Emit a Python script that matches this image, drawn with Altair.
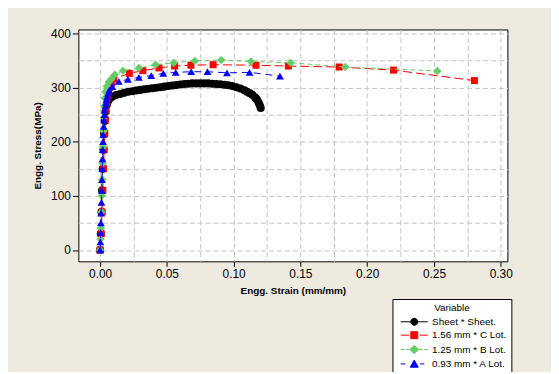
import altair as alt
import pandas as pd

# ---------------- data ----------------
sheet_strain = [0.0, 0.0005, 0.001, 0.0015, 0.002, 0.0025, 0.003, 0.0035, 0.004, 0.005, 0.006, 0.007,
                0.008, 0.009, 0.012, 0.015, 0.018, 0.021, 0.024, 0.027, 0.030, 0.033, 0.036, 0.039, 0.042,
                0.045, 0.048, 0.051, 0.054, 0.057, 0.060, 0.063, 0.066, 0.069, 0.072, 0.075, 0.078,
                0.081, 0.084, 0.087, 0.090, 0.093, 0.096, 0.099, 0.102, 0.105, 0.108, 0.110, 0.112,
                0.114, 0.116, 0.117, 0.118, 0.119, 0.1197, 0.1203]
sheet_stress = [0, 30, 70, 110, 150, 185, 215, 238, 255, 268, 275, 279,
                282, 283, 286, 288, 290, 292, 293, 294.5, 295.5, 296.5, 297.5, 298.5, 299.5,
                300.5, 301.5, 302.5, 303.5, 304.5, 305.5, 306.5, 307, 307.5, 307.5, 307.5, 307.5,
                307.5, 307, 306.5, 306, 305, 304, 302.5, 300.5, 298, 295, 292, 289.5,
                286.5, 282, 279, 275, 270.5, 266, 262]

c_strain = [0.0, 0.0008, 0.0015, 0.002, 0.0025, 0.003, 0.0035, 0.004, 0.0045, 0.005, 0.0055, 0.006,
            0.007, 0.0085, 0.0102, 0.0219, 0.032, 0.0441, 0.0558, 0.068, 0.0846, 0.1167, 0.141,
            0.179, 0.2197, 0.2803]
c_stress = [0, 30, 70, 110, 150, 185, 215, 240, 258, 272, 283, 292,
            300, 308, 315.7, 326, 331, 336, 339.5, 341, 342, 341, 339.5,
            337.7, 332, 312.6]

b_strain = [0.0, 0.0003, 0.0006, 0.001, 0.0013, 0.0016, 0.0019, 0.0022, 0.0025, 0.0028, 0.0031,
            0.0035, 0.004, 0.005, 0.0065, 0.0084, 0.011, 0.0171, 0.029, 0.0415, 0.0552, 0.0709,
            0.0907, 0.113, 0.1426, 0.1836, 0.2525]
b_stress = [0, 20, 40, 70, 100, 130, 160, 190, 220, 245, 265,
            280, 292, 302, 310, 315.7, 323.6, 331, 336, 342, 345.6, 349,
            350.5, 348, 345.6, 337.7, 330.4]

a_strain = [0.0, 0.0002, 0.0004, 0.0006, 0.0008, 0.001, 0.0012, 0.0014, 0.0016, 0.0018, 0.002,
            0.0022, 0.0024, 0.0027, 0.003, 0.0033, 0.0036, 0.004, 0.0044, 0.0048, 0.0053, 0.006,
            0.0068, 0.0092, 0.014, 0.0208, 0.029, 0.0383, 0.0473, 0.0566, 0.0682, 0.0804, 0.095,
            0.1119, 0.1347]
a_stress = [0, 15, 32, 50, 68, 88, 110, 130, 150, 168, 185,
            200, 213, 228, 240, 250, 258, 266, 272, 277, 283, 289,
            295, 301.6, 311, 315, 318.7, 321.8, 326, 327.8, 329, 329, 327,
            327.8, 321]

series_labels = ["Sheet * Sheet.", "1.56 mm * C Lot.", "1.25 mm * B Lot.", "0.93 mm * A Lot."]
series_colors = ["#000000", "#FF0000", "#66CC66", "#0000FF"]
x_ticks = [0.0, 0.025, 0.05, 0.075, 0.1, 0.125, 0.15, 0.175, 0.2, 0.225, 0.25, 0.275, 0.3]
y_ticks = [0, 50, 100, 150, 200, 250, 300, 350, 400]

# legend symbols: line + marker (custom paths)
legend_paths = [
    "M-3.9,0H3.9M0,-1A1,1 0 1,1 0,1A1,1 0 1,1 0,-1Z",
    "M-3.9,0H-1.5M1.5,0H3.9M-1,-1H1V1H-1Z",
    "M-3.9,0H-2.9M-2.4,0H-1.4M1.4,0H2.4M2.9,0H3.9M0,-1.25L1.25,0L0,1.25L-1.25,0Z",
    "M-3.9,0H-2.6M1.6,0H2.9M0,-1.1L1.15,0.95H-1.15Z",
]

FONT = "Liberation Sans"

def frame(strain, stress, label):
    return pd.DataFrame({"strain": strain, "stress": stress, "Variable": label})

dfs = [frame(sheet_strain, sheet_stress, series_labels[0]),
       frame(c_strain, c_stress, series_labels[1]),
       frame(b_strain, b_stress, series_labels[2]),
       frame(a_strain, a_stress, series_labels[3])]

major_x = "abs(datum.value*20 - round(datum.value*20)) < 0.000001"
major_y = "datum.value % 100 == 0"

x_enc = alt.X("strain:Q",
              scale=alt.Scale(domain=[-0.0163, 0.305], nice=False, zero=False),
              axis=alt.Axis(values=x_ticks, title="Engg. Strain (mm/mm)",
                            labelExpr=f"{major_x} ? format(datum.value, '.2f') : ''",
                            tickOpacity={"condition": {"test": major_x, "value": 1}, "value": 0},
                            labelOverlap=False, labelFlush=False, domain=False,
                            grid=True, gridDash=[5, 3], gridColor="#C4C4C4", gridWidth=1,
                            tickColor="black", tickSize=5, labelPadding=2,
                            labelFont=FONT, labelFontSize=12, labelColor="black",
                            titleFont=FONT, titleFontSize=10, titleFontWeight="bold",
                            titleColor="black", titlePadding=6))
y_enc = alt.Y("stress:Q",
              scale=alt.Scale(domain=[-21, 407], nice=False, zero=False),
              axis=alt.Axis(values=y_ticks, title="Engg. Stress(MPa)",
                            labelExpr=f"{major_y} ? datum.label : ''",
                            tickOpacity={"condition": {"test": major_y, "value": 1}, "value": 0},
                            labelOverlap=False, labelFlush=False, domain=False,
                            grid=True, gridDash=[5, 3], gridColor="#C4C4C4", gridWidth=1,
                            tickColor="black", tickSize=6, labelPadding=2,
                            labelFont=FONT, labelFontSize=12, labelColor="black",
                            titleFont=FONT, titleFontSize=10, titleFontWeight="bold",
                            titleColor="black", titlePadding=8))

dashes = [[1, 0], [9, 4], [5, 3], [7, 5]]
shapes = ["circle", "square", "diamond", "triangle-up"]
sizes = [66, 50, 72, 62]

layers = []
for i, df in enumerate(dfs):
    base = alt.Chart(df)
    line = base.mark_line(color=series_colors[i], strokeWidth=1, strokeDash=dashes[i]).encode(
        x=x_enc, y=y_enc, order="strain:Q")
    pts = base.mark_point(shape=shapes[i], filled=True, fill=series_colors[i],
                          strokeWidth=0, size=sizes[i], opacity=1).encode(x=x_enc, y=y_enc)
    layers += [line, pts]

leg = alt.Legend(title="Variable", orient="none", legendX=317, legendY=272,
                 strokeColor="black", fillColor="white", padding=4, cornerRadius=0,
                 titleAnchor="middle", titleFont=FONT, titleFontSize=10,
                 titleFontWeight="normal", titleColor="black", titlePadding=4,
                 labelFont=FONT, labelFontSize=10, labelColor="black",
                 symbolSize=49, symbolStrokeWidth=1, symbolOffset=13, labelOffset=13,
                 rowPadding=1.5)
legend_layer = alt.Chart(dfs[0]).transform_filter("false").mark_point(
    filled=True, opacity=1, size=49).encode(
    x=x_enc, y=y_enc,
    shape=alt.Shape("Variable:N", scale=alt.Scale(domain=series_labels, range=legend_paths), legend=leg),
    fill=alt.Fill("Variable:N", scale=alt.Scale(domain=series_labels, range=series_colors), legend=leg),
    stroke=alt.Stroke("Variable:N", scale=alt.Scale(domain=series_labels, range=series_colors), legend=leg),
)
layers.append(legend_layer)

chart = alt.layer(*layers).properties(
    width=433, height=234,
    autosize=alt.AutoSizeParams(type="none"),
    padding={"left": 71, "top": 20, "right": 44, "bottom": 110},
    background="#EEEAE0",
).configure_view(stroke="black", strokeWidth=1, fill="white")

chart.save("out.html", embed_options={"renderer": "svg", "actions": False})
